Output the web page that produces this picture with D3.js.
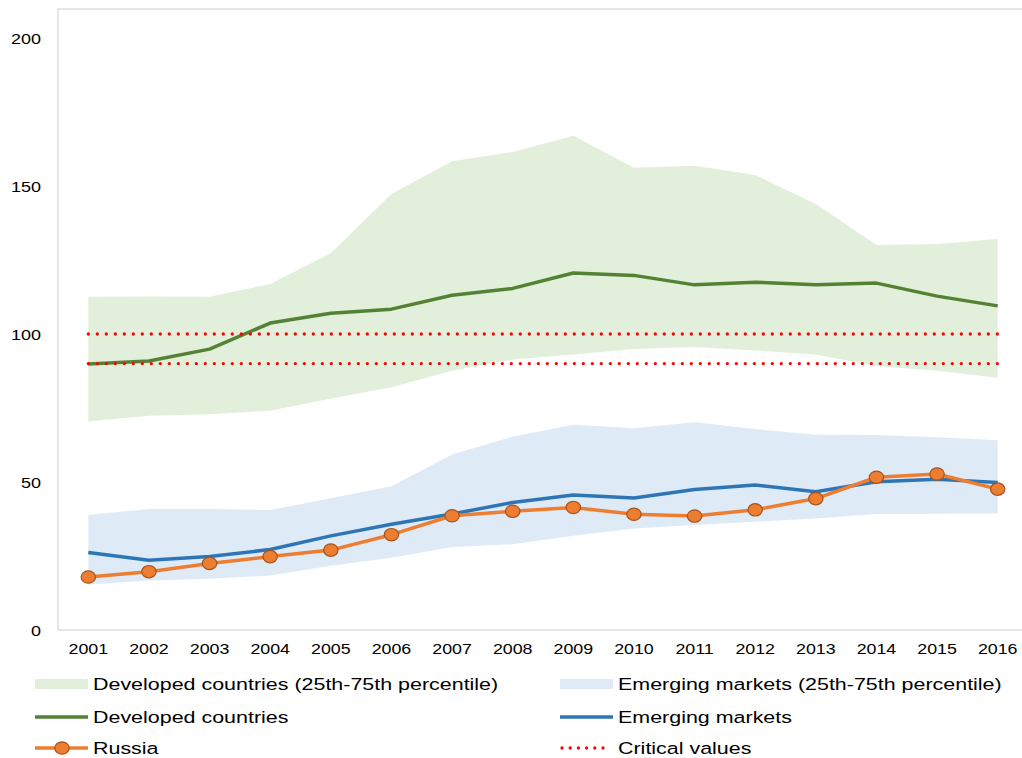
<!DOCTYPE html>
<html>
<head>
<meta charset="utf-8">
<script src="https://cdn.jsdelivr.net/npm/d3@7"></script>
<style>
  body { margin: 0; background: #fff; }
  text { font-family: "Liberation Sans", Arial, sans-serif; fill: #000; }
</style>
</head>
<body>
<svg></svg>
<script>
var width = 1022;
var height = 758;

var years = ["2001", "2002", "2003", "2004", "2005", "2006", "2007", "2008",
             "2009", "2010", "2011", "2012", "2013", "2014", "2015", "2016"];

var devLow  = [70.4, 72.4, 72.9, 74.1, 78.2, 82.0, 87.6, 91.4, 93.1, 94.9, 95.6, 94.4, 93.1, 89.2, 87.6, 85.2];
var devHigh = [112.6, 112.7, 112.6, 116.9, 127.3, 147.3, 158.4, 161.5, 167.0, 156.2, 156.8, 153.7, 143.9, 130.1, 130.4, 132.1];
var devMid  = [89.9, 90.9, 94.9, 103.7, 107.0, 108.4, 113.1, 115.4, 120.6, 119.8, 116.6, 117.5, 116.6, 117.2, 112.8, 109.5];

var emLow  = [15.4, 16.7, 17.3, 18.4, 21.7, 24.4, 28.0, 29.0, 31.8, 34.3, 35.5, 36.6, 37.7, 39.2, 39.3, 39.4];
var emHigh = [38.9, 40.9, 40.9, 40.5, 44.5, 48.6, 59.3, 65.3, 69.3, 68.2, 70.2, 67.9, 66.0, 65.9, 65.1, 64.1];
var emMid  = [26.2, 23.6, 24.8, 27.2, 31.8, 35.7, 39.2, 43.1, 45.6, 44.6, 47.5, 49.0, 46.7, 50.1, 50.9, 49.8];

var russia = [17.9, 19.7, 22.5, 24.8, 27.0, 32.2, 38.6, 40.1, 41.4, 39.1, 38.5, 40.6, 44.4, 51.6, 52.7, 47.6];

var critical = [90, 100];
var yTicks = [0, 50, 100, 150, 200];

var svg = d3.select("svg")
            .attr("width", width)
            .attr("height", height);

var x = d3.scaleBand()
          .domain(years)
          .range([58, 1028]);

var y = d3.scaleLinear()
          .domain([0, 200])
          .range([630, 38]);

function cx(i) { return x(years[i]) + x.bandwidth() / 2; }

// plot frame
svg.append("rect")
   .attr("x", 58).attr("y", 9)
   .attr("width", 1028 - 58).attr("height", 630 - 9)
   .attr("fill", "none")
   .attr("stroke", "#d9d9d9")
   .attr("stroke-width", 1.3);

// bands
var band = d3.area()
             .x(function(d, i) { return cx(i); })
             .y0(function(d) { return y(d[0]); })
             .y1(function(d) { return y(d[1]); });

svg.append("path")
   .attr("d", band(d3.zip(devLow, devHigh)))
   .attr("fill", "#e2efda");

svg.append("path")
   .attr("d", band(d3.zip(emLow, emHigh)))
   .attr("fill", "#deebf7");

var line = d3.line()
             .x(function(d, i) { return cx(i); })
             .y(function(d) { return y(d); });

svg.append("path")
   .attr("d", line(devMid))
   .attr("fill", "none")
   .attr("stroke", "#548235")
   .attr("stroke-width", 3.5)
   .attr("stroke-linejoin", "round");

svg.append("path")
   .attr("d", line(emMid))
   .attr("fill", "none")
   .attr("stroke", "#2e75b6")
   .attr("stroke-width", 3.5)
   .attr("stroke-linejoin", "round");

svg.append("path")
   .attr("d", line(russia))
   .attr("fill", "none")
   .attr("stroke", "#ed7d31")
   .attr("stroke-width", 3.5)
   .attr("stroke-linejoin", "round");

svg.selectAll("ellipse.ru")
   .data(russia)
   .enter()
   .append("ellipse")
   .attr("class", "ru")
   .attr("cx", function(d, i) { return cx(i); })
   .attr("cy", function(d) { return y(d); })
   .attr("rx", 7.2)
   .attr("ry", 6.2)
   .attr("fill", "#ed7d31")
   .attr("stroke", "#a5531c")
   .attr("stroke-width", 1.2);

// critical values
svg.selectAll("line.crit")
   .data(critical)
   .enter()
   .append("line")
   .attr("class", "crit")
   .attr("x1", cx(0))
   .attr("x2", cx(years.length - 1))
   .attr("y1", function(d) { return y(d); })
   .attr("y2", function(d) { return y(d); })
   .attr("stroke", "#ff0000")
   .attr("stroke-width", 3.3)
   .attr("stroke-linecap", "round")
   .attr("stroke-dasharray", "0,9");

// axes labels
svg.selectAll("text.ytick")
   .data(yTicks)
   .enter()
   .append("text")
   .attr("class", "ytick")
   .attr("transform", function(d) { return "translate(41," + (y(d) + 5.5) + ") scale(1.16,1)"; })
   .attr("text-anchor", "end")
   .style("font-size", "15.5px")
   .text(function(d) { return d; });

svg.selectAll("text.xtick")
   .data(years)
   .enter()
   .append("text")
   .attr("class", "xtick")
   .attr("transform", function(d, i) { return "translate(" + cx(i) + ",654) scale(1.15,1)"; })
   .attr("text-anchor", "middle")
   .style("font-size", "15.5px")
   .text(function(d) { return d; });

// legend
var legend = [
  { label: "Developed countries (25th-75th percentile)", kind: "band", color: "#e2efda", col: 0, row: 0 },
  { label: "Emerging markets (25th-75th percentile)", kind: "band", color: "#deebf7", col: 1, row: 0 },
  { label: "Developed countries", kind: "line", color: "#548235", col: 0, row: 1 },
  { label: "Emerging markets", kind: "line", color: "#2e75b6", col: 1, row: 1 },
  { label: "Russia", kind: "marker", color: "#ed7d31", col: 0, row: 2 },
  { label: "Critical values", kind: "dots", color: "#ff0000", col: 1, row: 2 }
];
var colX = [35, 560];
var rowY = [684, 717, 748];

legend.forEach(function(d) {
  var lx = colX[d.col], ly = rowY[d.row];
  if (d.kind === "band") {
    svg.append("rect").attr("x", lx).attr("y", ly - 5).attr("width", 53).attr("height", 10).attr("fill", d.color);
  } else if (d.kind === "dots") {
    svg.append("line").attr("x1", lx + 2).attr("x2", lx + 51).attr("y1", ly).attr("y2", ly)
       .attr("stroke", d.color).attr("stroke-width", 3.3).attr("stroke-linecap", "round").attr("stroke-dasharray", "0,8.2");
  } else {
    svg.append("line").attr("x1", lx).attr("x2", lx + 53).attr("y1", ly).attr("y2", ly)
       .attr("stroke", d.color).attr("stroke-width", 3.5);
    if (d.kind === "marker") {
      svg.append("ellipse").attr("cx", lx + 27).attr("cy", ly).attr("rx", 7.2).attr("ry", 6.2)
         .attr("fill", d.color).attr("stroke", "#a5531c").attr("stroke-width", 1.2);
    }
  }
  svg.append("text")
     .attr("transform", "translate(" + (lx + 58) + "," + (ly + 6) + ") scale(1.3,1)")
     .style("font-size", "16.5px")
     .text(d.label);
});
</script>
</body>
</html>
